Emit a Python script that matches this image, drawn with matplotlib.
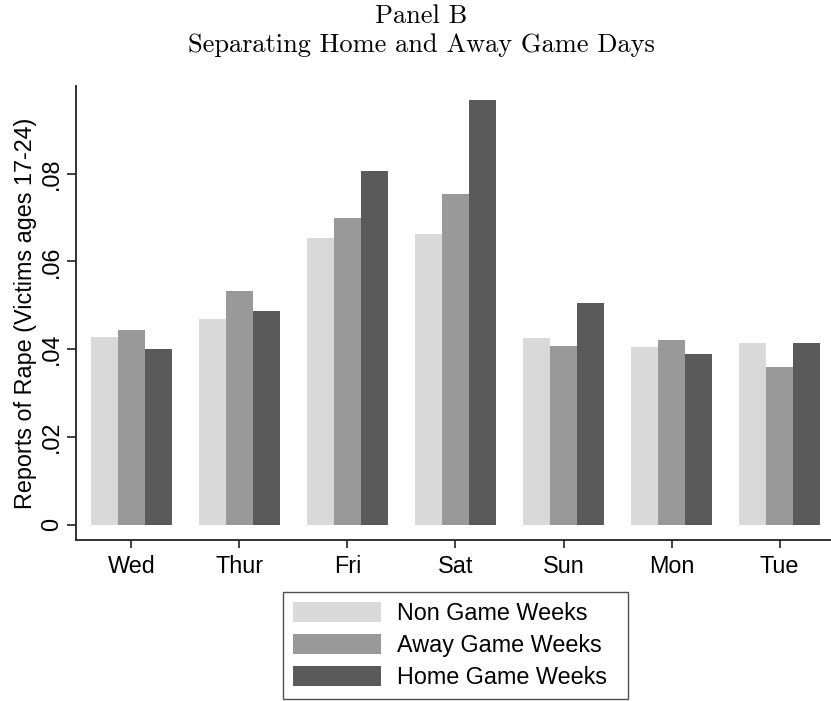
import matplotlib
matplotlib.use('Agg')
import matplotlib.pyplot as plt
import numpy as np

days = ['Wed', 'Thur', 'Fri', 'Sat', 'Sun', 'Mon', 'Tue']
non_game = [0.0428, 0.0469, 0.0654, 0.0663, 0.0426, 0.0405, 0.0414]
away_game = [0.0443, 0.0533, 0.0699, 0.0754, 0.0408, 0.0420, 0.0359]
home_game = [0.0400, 0.0486, 0.0806, 0.0967, 0.0505, 0.0388, 0.0415]
series_labels = ['Non Game Weeks', 'Away Game Weeks', 'Home Game Weeks']
yticks = [0, 0.02, 0.04, 0.06, 0.08]
ytick_labels = ['0', '.02', '.04', '.06', '.08']

colors = ['#d9d9d9', '#999999', '#5a5a5a']
sans = ['Liberation Sans', 'DejaVu Sans']
fs = 16.8

fig = plt.figure(figsize=(8.31, 7.01), dpi=100)
ax = fig.add_axes([76 / 831, 1 - 540 / 701, 1 - 76 / 831, (540 - 86) / 701])

x = np.arange(len(days))
w = 0.25
for i, (vals, lab) in enumerate(zip([non_game, away_game, home_game], series_labels)):
    ax.bar(x + (i - 1) * w, vals, width=w, color=colors[i], label=lab,
           edgecolor='none', linewidth=0)

ax.set_xlim(-0.512, 6.475)
ax.set_ylim(-0.0035, 0.1)
ax.set_xticks(x)
ax.set_xticklabels(days, fontsize=fs, family=sans)
ax.set_yticks(yticks)
ax.set_yticklabels(ytick_labels, fontsize=fs, family=sans, rotation=90, va='center')
ax.tick_params(axis='y', direction='out', length=6.5, width=1.2, color='#222222', pad=3)
ax.tick_params(axis='x', direction='out', length=6, width=1.2, color='#222222', pad=5)

for s in ['top', 'right']:
    ax.spines[s].set_visible(False)
for s in ['left', 'bottom']:
    ax.spines[s].set_color('#222222')
    ax.spines[s].set_linewidth(1.3)

ax.set_ylabel('Reports of Rape (Victims ages 17-24)', fontsize=fs, family=sans, labelpad=2)

fig.text(421 / 831, 1 - 16 / 701, 'Panel B', ha='center', va='center',
         family='cmr10', fontsize=19)
fig.text(421 / 831, 1 - 45 / 701, 'Separating Home and Away Game Days', ha='center',
         va='center', family='cmr10', fontsize=19)

leg = fig.legend(loc='upper left',
                 bbox_to_anchor=(283 / 831, 1 - 698 / 701, (628 - 283) / 831, (698 - 592) / 701),
                 mode='expand', borderaxespad=0, fancybox=False, frameon=True,
                 prop={'family': sans, 'size': fs},
                 handlelength=3.8, handleheight=0.96, handletextpad=0.65,
                 labelspacing=0.38, borderpad=0.42)
leg.get_frame().set_edgecolor('#222222')
leg.get_frame().set_linewidth(1.0)

fig.savefig('out.png', dpi=100)
